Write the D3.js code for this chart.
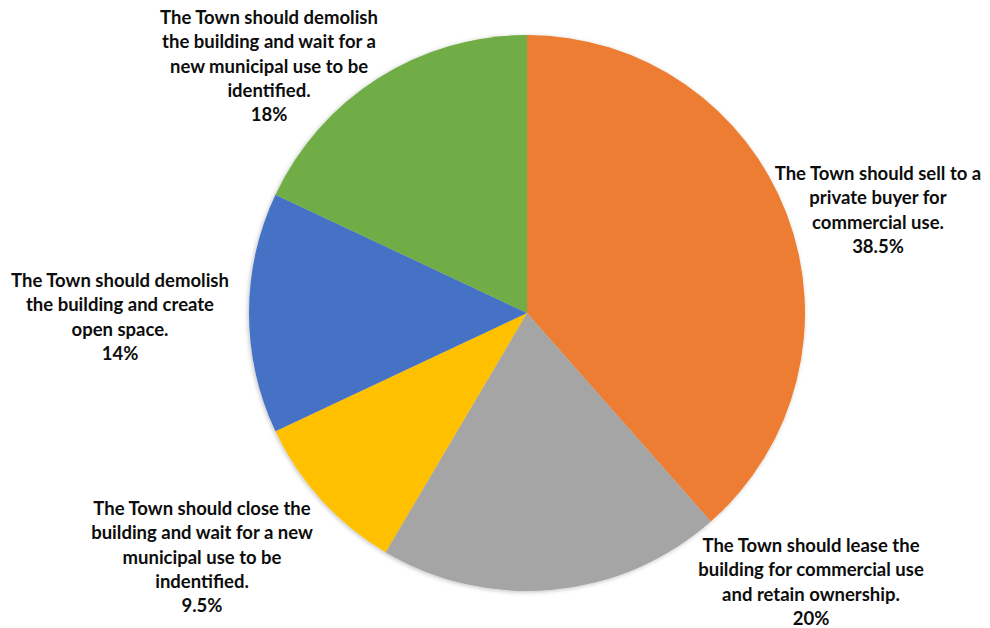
<!DOCTYPE html>
<html>
<head>
<meta charset="utf-8">
<script src="https://cdn.jsdelivr.net/npm/d3@7/dist/d3.min.js"></script>
<style>
  html, body { margin: 0; padding: 0; background: #fff; }
  svg { display: block; }
</style>
</head>
<body>
<svg id="chart" width="990" height="628"></svg>
<script>
const categories = [
  "The Town should sell to a private buyer for commercial use.",
  "The Town should lease the building for commercial use and retain ownership.",
  "The Town should close the building and wait for a new municipal use to be indentified.",
  "The Town should demolish the building and create open space.",
  "The Town should demolish the building and wait for a new municipal use to be identified."
];
const values = [38.5, 20, 9.5, 14, 18];
const valueLabels = ["38.5%", "20%", "9.5%", "14%", "18%"];
const labelLines = [
  ["The Town should sell to a", "private buyer for", "commercial use."],
  ["The Town should lease the", "building for commercial use", "and retain ownership."],
  ["The Town should close the", "building and wait for a new", "municipal use to be", "indentified."],
  ["The Town should demolish", "the building and create", "open space."],
  ["The Town should demolish", "the building and wait for a", "new municipal use to be", "identified."]
];
const colors = ["#ED7D31", "#A5A5A5", "#FFC000", "#4472C4", "#70AD47"];

const svg = d3.select("#chart");
const cx = 527, cy = 313, R = 278;

const defs = svg.append("defs");
const f = defs.append("filter").attr("id", "sh").attr("x", "-10%").attr("y", "-10%").attr("width", "120%").attr("height", "120%");
f.append("feDropShadow").attr("dx", -1).attr("dy", 1).attr("stdDeviation", 2).attr("flood-color", "#000").attr("flood-opacity", 0.25);

const pie = d3.pie().sort(null).value(d => d)(values);
const arc = d3.arc().innerRadius(0).outerRadius(R);

const g = svg.append("g").attr("transform", `translate(${cx},${cy})`).attr("filter", "url(#sh)");
g.selectAll("path").data(pie).join("path")
  .attr("d", arc)
  .attr("fill", (d, i) => colors[i]);

// label anchor positions (center x, first line center y) placed outside each slice
const labelPos = [
  [878, 173],
  [811, 545],
  [202, 508],
  [120, 280],
  [269, 17]
];
const lineH = 24.3;

const font = "Lato, 'Open Sans', sans-serif";
let fs = 18;
// calibrate font size so the widest reference line is ~218px
const probe = svg.append("text").attr("font-family", font).attr("font-weight", 700)
  .attr("font-size", fs).text("The Town should demolish");
const w = probe.node().getComputedTextLength();
probe.remove();
fs = fs * 218 / w;

const lg = svg.append("g").attr("font-family", font).attr("font-weight", 700)
  .attr("font-size", fs).attr("fill", "#0d0d0d").attr("text-anchor", "middle");

pie.forEach((d, i) => {
  const lines = labelLines[i].concat([valueLabels[i]]);
  const t = lg.append("text")
    .attr("x", labelPos[i][0])
    .attr("y", labelPos[i][1])
    .attr("dominant-baseline", "central");
  lines.forEach((ln, j) => {
    t.append("tspan").attr("x", labelPos[i][0]).attr("y", labelPos[i][1] + j * lineH).text(ln);
  });
});
</script>
</body>
</html>
